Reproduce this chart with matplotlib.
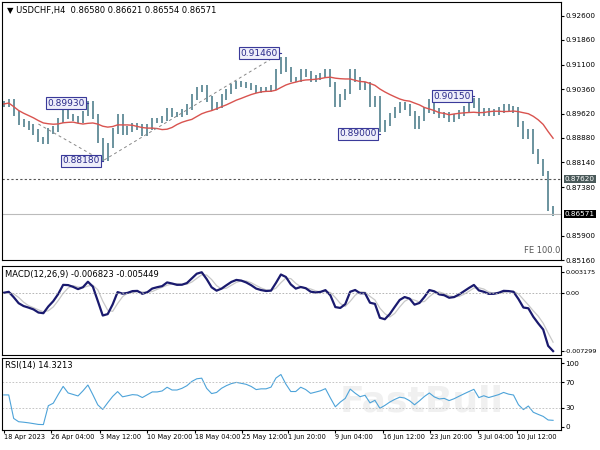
import matplotlib
matplotlib.use("Agg")
import matplotlib.pyplot as plt
import numpy as np
import pandas as pd

closes = [0.8991,0.8997,0.8961,0.8936,0.8930,0.8921,0.8906,0.8882,0.8876,0.8909,
0.8915,0.8940,0.8976,0.8952,0.8946,0.8940,0.8961,0.8993,0.8952,0.8879,
0.8825,0.8864,0.8909,0.8952,0.8906,0.8915,0.8924,0.8921,0.8903,0.8921,
0.8940,0.8940,0.8946,0.8970,0.8958,0.8958,0.8967,0.8982,0.9012,0.9036,
0.9042,0.9006,0.8982,0.8988,0.9012,0.9030,0.9045,0.9054,0.9051,0.9048,
0.9042,0.9033,0.9036,0.9036,0.9042,0.9091,0.9127,0.9097,0.9066,0.9066,
0.9091,0.9082,0.9066,0.9072,0.9078,0.9088,0.9051,0.8991,0.9012,0.9030,
0.9091,0.9066,0.9042,0.9051,0.8991,0.9006,0.8915,0.8933,0.8955,0.8973,
0.8988,0.8982,0.8961,0.8924,0.8946,0.8973,0.8997,0.8970,0.8955,0.8958,
0.8943,0.8952,0.8964,0.8976,0.8988,0.9000,0.8961,0.8970,0.8961,0.8967,
0.8973,0.8982,0.8976,0.8973,0.8930,0.8894,0.8906,0.8846,0.8815,0.8779,
0.8673,0.8658]
price_ticks = [0.92600,0.91860,0.91100,0.90360,0.89620,0.88880,0.88140,0.87380,0.85900,0.85160]
date_labels = ["18 Apr 2023","26 Apr 04:00","3 May 12:00","10 May 20:00","18 May 04:00",
               "25 May 12:00","1 Jun 20:00","9 Jun 04:00","16 Jun 12:00","23 Jun 20:00",
               "3 Jul 04:00","10 Jul 12:00"]
date_pos = [0, 9.6, 19.4, 29, 38.6, 48.2, 57.4, 67, 76.6, 86.2, 95.8, 103.8]
swings = [(17, 0.8993, "0.89930"), (20, 0.8818, "0.88180"), (56, 0.9146, "0.91460"),
          (76, 0.8900, "0.89000"), (95, 0.9015, "0.90150")]
level_line = 0.8762
last_price = 0.86571

s = pd.Series(closes)
ma = s.rolling(15, min_periods=1).mean()
ema_f = s.ewm(span=4, adjust=False).mean()
ema_s = s.ewm(span=8, adjust=False).mean()
macd = ema_f - ema_s
sig = macd.rolling(3, min_periods=1).mean()
d = s.diff().fillna(0)
up = d.clip(lower=0).ewm(alpha=1/9, adjust=False).mean()
dn = (-d.clip(upper=0)).ewm(alpha=1/9, adjust=False).mean()
rsi = 100 - 100/(1 + up/(dn+1e-9))
rsi.iloc[:2] = 50

n = len(closes)
x = np.arange(n)
xl = (-0.4, 112.6)
fig = plt.figure(figsize=(6, 4.5), dpi=100)
plt.rcParams['font.size'] = 5.5
W = 0.932
ax = fig.add_axes([0.003, 0.422, W, 0.574])
am = fig.add_axes([0.003, 0.211, W, 0.198])
ar = fig.add_axes([0.003, 0.045, W, 0.159])
barc = '#5f8a96'
prev = [closes[0]] + closes[:-1]
lo = np.minimum(prev, closes) - 0.0008
hi = np.maximum(prev, closes) + 0.0008
ax.vlines(x, lo, hi, color=barc, lw=1.3)
ax.plot(x, ma, color='#d9534f', lw=1)
ax.set_ylim(0.8525, 0.9302)
ax.set_xlim(*xl)
ax.axhline(level_line, color='#555555', lw=0.8, ls=(0, (2, 2)))
ax.axhline(last_price, color='#bbbbbb', lw=0.8)
ax.plot([7, 20, 56], [0.8930, 0.8818, 0.9146], color='#888888', lw=0.7, ls=(0, (3, 3)))
box = dict(boxstyle='square,pad=0.15', fc='#eeeefa', ec='#3a3a9a', lw=0.8)
for i, p, t in swings:
    ax.text(i - 0.6, p, t, ha='right', va='center', fontsize=6.5, color='#2a2a8a', bbox=box)
    ax.plot([i - 0.6, i], [p, p], color='#3a3a9a', lw=0.8)
ax.yaxis.tick_right()
ax.set_yticks(price_ticks)
ax.set_yticklabels([f"{v:.5f}" for v in price_ticks])
ax.set_xticks([])
ax.text(1.007, level_line, "0.87620", transform=ax.get_yaxis_transform(), va='center', ha='left',
        color='white', fontsize=5.2, bbox=dict(boxstyle='square,pad=0.15', fc='#4a5a5a', ec='none'))
ax.text(1.007, last_price, "0.86571", transform=ax.get_yaxis_transform(), va='center', ha='left',
        color='white', fontsize=5.2, bbox=dict(boxstyle='square,pad=0.15', fc='#000000', ec='none'))
ax.text(0.01, 0.985, "\u25bc USDCHF,H4  0.86580 0.86621 0.86554 0.86571", transform=ax.transAxes,
        va='top', ha='left', fontsize=6)
ax.text(0.998, 0.02, "FE 100.0", transform=ax.transAxes, va='bottom', ha='right', fontsize=6, color='#555555')

am.plot(x, sig, color='#c8c8c8', lw=0.9)
am.plot(x, macd, color='#1a1a6e', lw=1.6)
mx, mn = macd.max(), macd.min()
am.set_ylim(mn - 0.05*(mx-mn), mx + 0.08*(mx-mn))
am.axhline(0, color='#aaaaaa', lw=0.6, ls=(0, (2, 2)))
am.set_xlim(*xl)
am.yaxis.tick_right()
am.set_yticks([mx, 0, mn])
am.set_yticklabels(["0.003175", "0.00", "-0.007299"])
am.set_xticks([])
am.text(0.005, 0.96, "MACD(12,26,9) -0.006823 -0.005449", transform=am.transAxes, va='top', fontsize=6)

ar.text(0.75, 0.4, "FastBull", transform=ar.transAxes, fontsize=26, color='#f0f0f0',
        ha='center', va='center', weight='bold', zorder=0)
ar.plot(x, rsi, color='#4da3d9', lw=0.8)
ar.set_ylim(-5, 108)
ar.axhline(70, color='#bbbbbb', lw=0.6, ls=(0, (2, 2)))
ar.axhline(30, color='#bbbbbb', lw=0.6, ls=(0, (2, 2)))
ar.set_xlim(*xl)
ar.yaxis.tick_right()
ar.set_yticks([100, 70, 30, 0])
ar.set_xticks(date_pos)
ar.set_xticklabels(date_labels, fontsize=4.8, ha='left')
ar.text(0.005, 0.96, "RSI(14) 14.3213", transform=ar.transAxes, va='top', fontsize=6)
for a in (ax, am, ar):
    a.tick_params(length=2, pad=1.2, labelsize=5.2)
am.tick_params(axis='y', labelsize=4.6, pad=1)
ar.tick_params(axis='x', labelsize=4.8)
fig.savefig("out.png", dpi=100)
